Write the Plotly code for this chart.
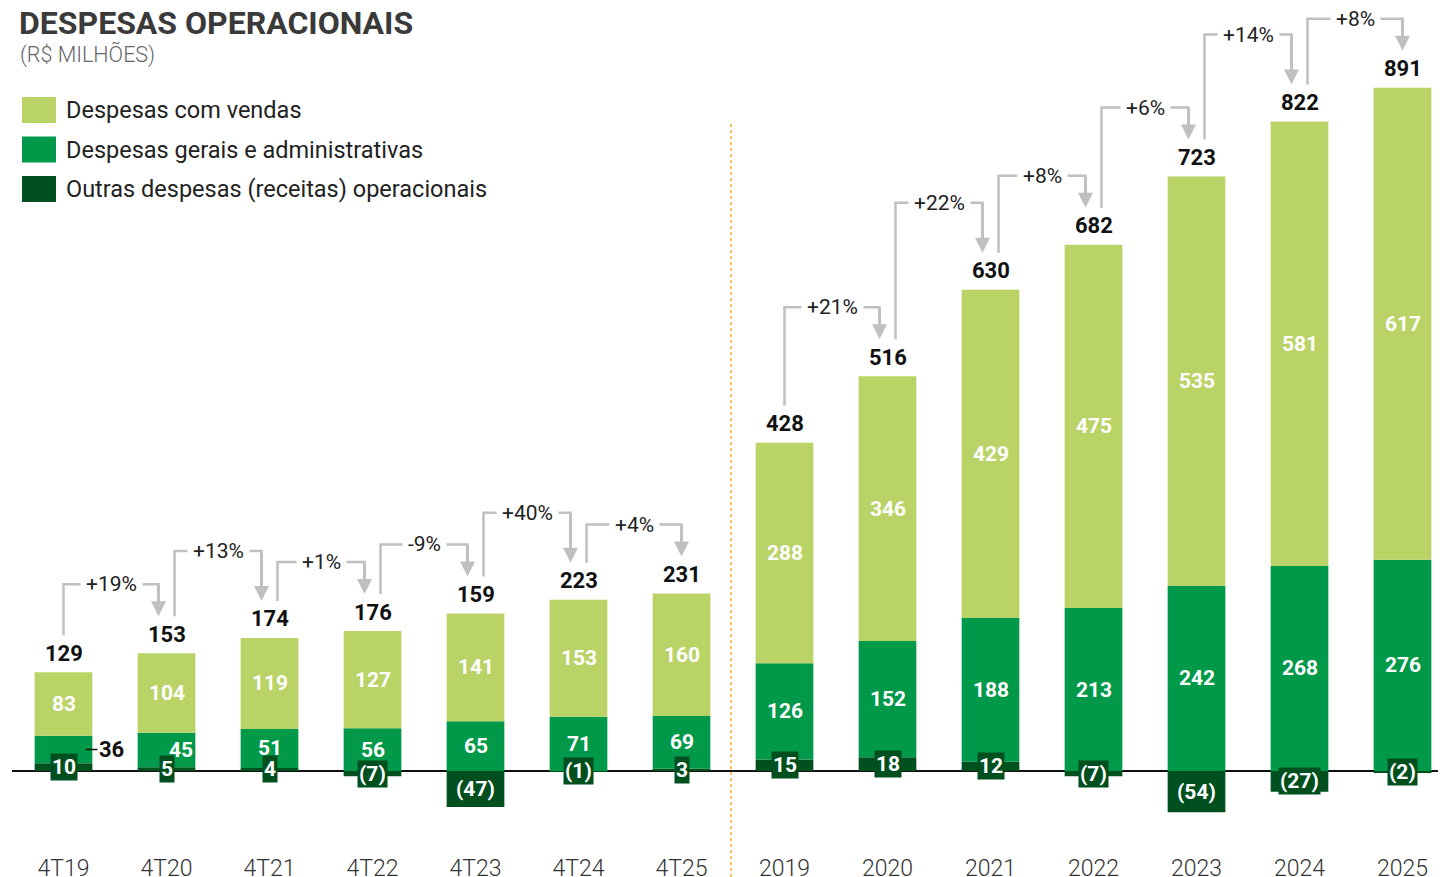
import plotly.graph_objects as go

# dados (R$ milhões)
categorias = ['4T19', '4T20', '4T21', '4T22', '4T23', '4T24', '4T25',
              '2019', '2020', '2021', '2022', '2023', '2024', '2025']
vendas = [83, 104, 119, 127, 141, 153, 160, 288, 346, 429, 475, 535, 581, 617]
gerais_adm = [36, 45, 51, 56, 65, 71, 69, 126, 152, 188, 213, 242, 268, 276]
outras = [10, 5, 4, -7, -47, -1, 3, 15, 18, 12, -7, -54, -27, -2]
totais = [129, 153, 174, 176, 159, 223, 231, 428, 516, 630, 682, 723, 822, 891]
variacao = ['+19%', '+13%', '+1%', '-9%', '+40%', '+4%', None,
            '+21%', '+22%', '+8%', '+6%', '+14%', '+8%']
nomes = ['Despesas com vendas', 'Despesas gerais e administrativas',
         'Outras despesas (receitas) operacionais']

COR_VENDAS = '#b9d366'
COR_GERAIS = '#009849'
COR_OUTRAS = '#00501f'
CINZA = '#c0c0c0'
FONTE = 'Roboto'

# geometria (a página tem 8px de margem no body)
OFF = 8
W, H = 1446 - OFF, 877 - OFF
ML, MB = 12 - OFF, 25
PLOT_W, PLOT_H = W - ML, H - MB
ESCALA = 0.765  # px por R$ milhão
ZERO = 771      # linha do zero na tela
X0, X1 = -0.5, -0.5 + PLOT_W / 103.0
Y1 = (ZERO - OFF) / ESCALA
Y0 = Y1 - PLOT_H / ESCALA
px_x = PLOT_W / (X1 - X0)
px_y = PLOT_H / (Y1 - Y0)


def dx(px):
    return px / px_x


def dy(px):
    return px / px_y


def paper_x(px):
    return (px - OFF - ML) / PLOT_W


def paper_y(py):
    return 1 - (py - OFF) / PLOT_H


def fmt(v):
    return '(%d)' % abs(v) if v < 0 else str(v)


# elevação (px) das chaves de variação acima do rótulo mais alto
elevacao = [50, 68, 50, 50, 68, 50, None, 50, 68, 50, 50, 68, 50]

x = list(range(len(categorias)))
topo = [max(o, 0) + g + v for o, g, v in zip(outras, gerais_adm, vendas)]

fig = go.Figure()
fig.add_trace(go.Bar(x=x, y=outras, name=nomes[2], marker_color=COR_OUTRAS,
                     width=0.56, marker_line_width=0))
fig.add_trace(go.Bar(x=x, y=gerais_adm, name=nomes[1], marker_color=COR_GERAIS,
                     width=0.56, marker_line_width=0))
fig.add_trace(go.Bar(x=x, y=vendas, name=nomes[0], marker_color=COR_VENDAS,
                     width=0.56, marker_line_width=0))

anots = []
shapes = []
branco = dict(family=FONTE, size=21, color='white', weight='bold')
preto = dict(family=FONTE, size=22, color='#111', weight='bold')

for i in x:
    base = max(outras[i], 0)
    # vendas
    anots.append(dict(x=i, y=base + gerais_adm[i] + vendas[i] / 2, text=str(vendas[i]),
                      showarrow=False, font=branco))
    # gerais e administrativas
    yg = base + gerais_adm[i] / 2
    if i == 0:
        anots.append(dict(x=i + dx(22), y=yg, ax=26, ay=0, text=str(gerais_adm[i]),
                          showarrow=True, arrowhead=0, arrowwidth=1.5, arrowcolor='#111',
                          standoff=0, font=preto))
    else:
        anots.append(dict(x=i, y=yg, text=str(gerais_adm[i]), showarrow=False,
                          xshift=14 if i == 1 else 0, font=branco))
    # outras
    anots.append(dict(x=i, y=outras[i] / 2, text=fmt(outras[i]), showarrow=False,
                      bgcolor=COR_OUTRAS, borderpad=1, font=branco))
    # total
    anots.append(dict(x=i, y=topo[i], yshift=19, text=str(totais[i]), showarrow=False,
                      font=preto))

# chaves de variação
for i, txt in enumerate(variacao):
    if txt is None:
        continue
    a, b = i, i + 1
    xs = a + (dx(8) if a not in (0, 7) else 0)
    xe = b - (dx(8) if b not in (6, 13) else 0)
    ys = topo[a] + dy(37)
    ye = topo[b] + dy(37)
    nivel = max(topo[a], topo[b]) + dy(19 + elevacao[i])
    shapes.append(dict(type='path', xref='x', yref='y',
                       path='M %f,%f L %f,%f L %f,%f L %f,%f' % (
                           xs, ys, xs, nivel, xe, nivel, xe, ye + dy(12)),
                       line=dict(color=CINZA, width=2.5)))
    anots.append(dict(x=xe, y=ye, ax=xe, ay=nivel, axref='x', ayref='y', text='',
                      showarrow=True, arrowhead=2, arrowsize=1, arrowwidth=3,
                      arrowcolor=CINZA, standoff=0))
    anots.append(dict(x=(xs + xe) / 2, y=nivel, text=txt, showarrow=False,
                      bgcolor='white', borderpad=5,
                      font=dict(family=FONTE, size=21, color='#222')))

# separador trimestres / anos
shapes.append(dict(type='line', xref='x', yref='paper', x0=6.5 - dx(2), x1=6.5 - dx(2),
                   y0=paper_y(877), y1=paper_y(124), layer='below',
                   line=dict(color='#f5c35a', width=2, dash='dot')))

# título
anots.append(dict(xref='paper', yref='paper', x=paper_x(17), y=paper_y(23),
                  xanchor='left', yanchor='middle', showarrow=False,
                  text='DESPESAS OPERACIONAIS',
                  font=dict(family=FONTE, size=32, color='#3a3a3a', weight='bold')))
anots.append(dict(xref='paper', yref='paper', x=paper_x(18), y=paper_y(55),
                  xanchor='left', yanchor='middle', showarrow=False,
                  text='(R$ MILHÕES)',
                  font=dict(family=FONTE, size=21.5, color='#666', weight=300)))

# legenda manual
for k, (nome, cor) in enumerate(zip(nomes, [COR_VENDAS, COR_GERAIS, COR_OUTRAS])):
    yc = 110 + k * 39.5
    shapes.append(dict(type='rect', xref='paper', yref='paper',
                       x0=paper_x(22), x1=paper_x(56),
                       y0=paper_y(yc - 13), y1=paper_y(yc + 13),
                       fillcolor=cor, line_width=0))
    anots.append(dict(xref='paper', yref='paper', x=paper_x(64), y=paper_y(yc),
                      xanchor='left', yanchor='middle', showarrow=False, text=nome,
                      font=dict(family=FONTE, size=23.5, color='#222')))

fig.update_layout(
    width=W, height=H,
    margin=dict(l=ML, r=0, t=0, b=MB),
    barmode='relative',
    showlegend=False,
    plot_bgcolor='white', paper_bgcolor='white',
    annotations=anots,
    shapes=shapes,
    xaxis=dict(range=[X0, X1], tickvals=x, ticktext=categorias, showgrid=False,
               zeroline=False, showline=False, ticks='', automargin=False,
               tickfont=dict(family=FONTE, size=23, color='#333', weight=300)),
    yaxis=dict(range=[Y0, Y1], showgrid=False, showticklabels=False,
               automargin=False,
               zeroline=True, zerolinecolor='#111', zerolinewidth=2),
)

fig.write_html("out.html")
